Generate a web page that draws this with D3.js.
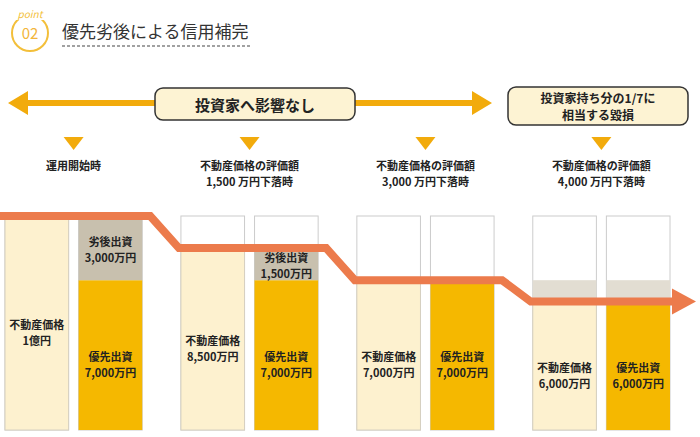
<!DOCTYPE html><html><head><meta charset="utf-8"><script src="https://cdn.jsdelivr.net/npm/d3@7"></script>
<style>body{margin:0;background:#fff}text{font-family:"Noto Sans CJK JP",sans-serif}</style></head><body><svg id="c" width="700" height="437"></svg>
<script>
const stages=["運用開始時","不動産価格の評価額\n1,500 万円下落時","不動産価格の評価額\n3,000 万円下落時","不動産価格の評価額\n4,000 万円下落時"];
const propertyValues=[10000,8500,7000,6000];
const seniorValues=[7000,7000,7000,6000];
const juniorValues=[3000,1500,0,0];
const lostValues=[0,0,0,1000];
const propertyLabels=["不動産価格\n1億円","不動産価格\n8,500万円","不動産価格\n7,000万円","不動産価格\n6,000万円"];
const seniorLabels=["優先出資\n7,000万円","優先出資\n7,000万円","優先出資\n7,000万円","優先出資\n6,000万円"];
const juniorLabels=["劣後出資\n3,000万円","劣後出資\n1,500万円","",""];
const total=10000;
const svg=d3.select("#c");
const y=d3.scaleLinear().domain([0,total]).range([430,216]);
const gx=d3.scaleBand().domain(d3.range(4)).range([5,670]).paddingInner(0.22).paddingOuter(0);
const bw=gx.bandwidth(), barW=(bw-10)/2;
function lines(g,txt,x,yy,size,fill){const ls=txt.split("\n");ls.forEach((l,i)=>g.append("text").attr("x",x).attr("y",yy+i*size*1.45).attr("text-anchor","middle").attr("font-size",size).attr("font-weight","bold").attr("fill",fill||"#222").text(l));}
// title
svg.append("circle").attr("cx",30).attr("cy",33).attr("r",18).attr("fill","none").attr("stroke","#f3bf3a").attr("stroke-width",2);
svg.append("rect").attr("x",16).attr("y",10).attr("width",28).attr("height",10).attr("fill","#fff");
svg.append("text").attr("x",30).attr("y",18).attr("text-anchor","middle").attr("font-size",10).attr("fill","#f3bf3a").attr("font-style","italic").text("point");
svg.append("text").attr("x",30).attr("y",39).attr("text-anchor","middle").attr("font-size",15).attr("fill","#f3b53a").text("02");
svg.append("text").attr("x",62).attr("y",38).attr("font-size",17).attr("fill","#333").text("優先劣後による信用補完");
svg.append("line").attr("x1",62).attr("x2",250).attr("y1",46).attr("y2",46).attr("stroke","#444").attr("stroke-dasharray","3,2").attr("stroke-width",1.2);
// top arrow
svg.append("line").attr("x1",22).attr("x2",478).attr("y1",103).attr("y2",103).attr("stroke","#f2ab0c").attr("stroke-width",6);
svg.append("path").attr("d","M8,103 L28,91 L28,115Z M492,103 L472,91 L472,115Z").attr("fill","#f2ab0c");
svg.append("rect").attr("x",155).attr("y",88).attr("width",200).attr("height",32).attr("rx",8).attr("fill","#fdf3d3").attr("stroke","#333").attr("stroke-width",1.5);
lines(svg,"投資家へ影響なし",255,111,15);
svg.append("rect").attr("x",508).attr("y",87).attr("width",180).attr("height",38).attr("rx",8).attr("fill","#fdf3d3").attr("stroke","#333").attr("stroke-width",1.5);
lines(svg,"投資家持ち分の1/7に\n相当する毀損",598,103,12);
// stages
stages.forEach((s,i)=>{const cx=gx(i)+bw/2;
 svg.append("path").attr("d",`M${cx-10},137 L${cx+10},137 L${cx},150Z`).attr("fill","#f2ab0c");
 lines(svg,s,cx,170,11);});
// bars
const G=svg.append("g");
d3.range(4).forEach(i=>{
 const x1=gx(i), x2=gx(i)+barW+10;
 [x1,x2].forEach(x=>G.append("rect").attr("x",x).attr("y",y(total)).attr("width",barW).attr("height",y(0)-y(total)).attr("fill","#fff").attr("stroke","#ccc"));
 G.append("rect").attr("x",x1).attr("y",y(propertyValues[i])).attr("width",barW).attr("height",y(0)-y(propertyValues[i])).attr("fill","#fdf1cf").attr("stroke","#d6d0c0");
 if(lostValues[i]>0){[x1,x2].forEach(x=>G.append("rect").attr("x",x).attr("y",y(propertyValues[i]+lostValues[i])).attr("width",barW).attr("height",y(propertyValues[i])-y(propertyValues[i]+lostValues[i])).attr("fill","#e2ddd2"));}
 G.append("rect").attr("x",x2).attr("y",y(seniorValues[i])).attr("width",barW).attr("height",y(0)-y(seniorValues[i])).attr("fill","#f5b800");
 if(juniorValues[i]>0)G.append("rect").attr("x",x2).attr("y",y(seniorValues[i]+juniorValues[i])).attr("width",barW).attr("height",y(seniorValues[i])-y(seniorValues[i]+juniorValues[i])).attr("fill","#c8c0ae");
 lines(G,propertyLabels[i],x1+barW/2,(y(propertyValues[i])+430)/2+6,11);
 lines(G,seniorLabels[i],x2+barW/2,(y(seniorValues[i])+430)/2+6,11);
 if(juniorLabels[i])lines(G,juniorLabels[i],x2+barW/2,(y(seniorValues[i]+juniorValues[i])+y(seniorValues[i]))/2-2,11);
});
// value line
const pts=[[0,y(propertyValues[0])]];
d3.range(4).forEach(i=>{const yy=y(propertyValues[i]);if(i>0)pts.push([gx(i)-2,yy]);pts.push([gx(i)+bw+8,yy]);});
pts[pts.length-1][0]=678;
svg.append("path").attr("d",d3.line()(pts)).attr("fill","none").attr("stroke","#ec7b4c").attr("stroke-width",8);
const ly=y(propertyValues[3]);
svg.append("path").attr("d",`M696,${ly} L672,${ly-13} L672,${ly+13}Z`).attr("fill","#ec7b4c");
</script></body></html>
